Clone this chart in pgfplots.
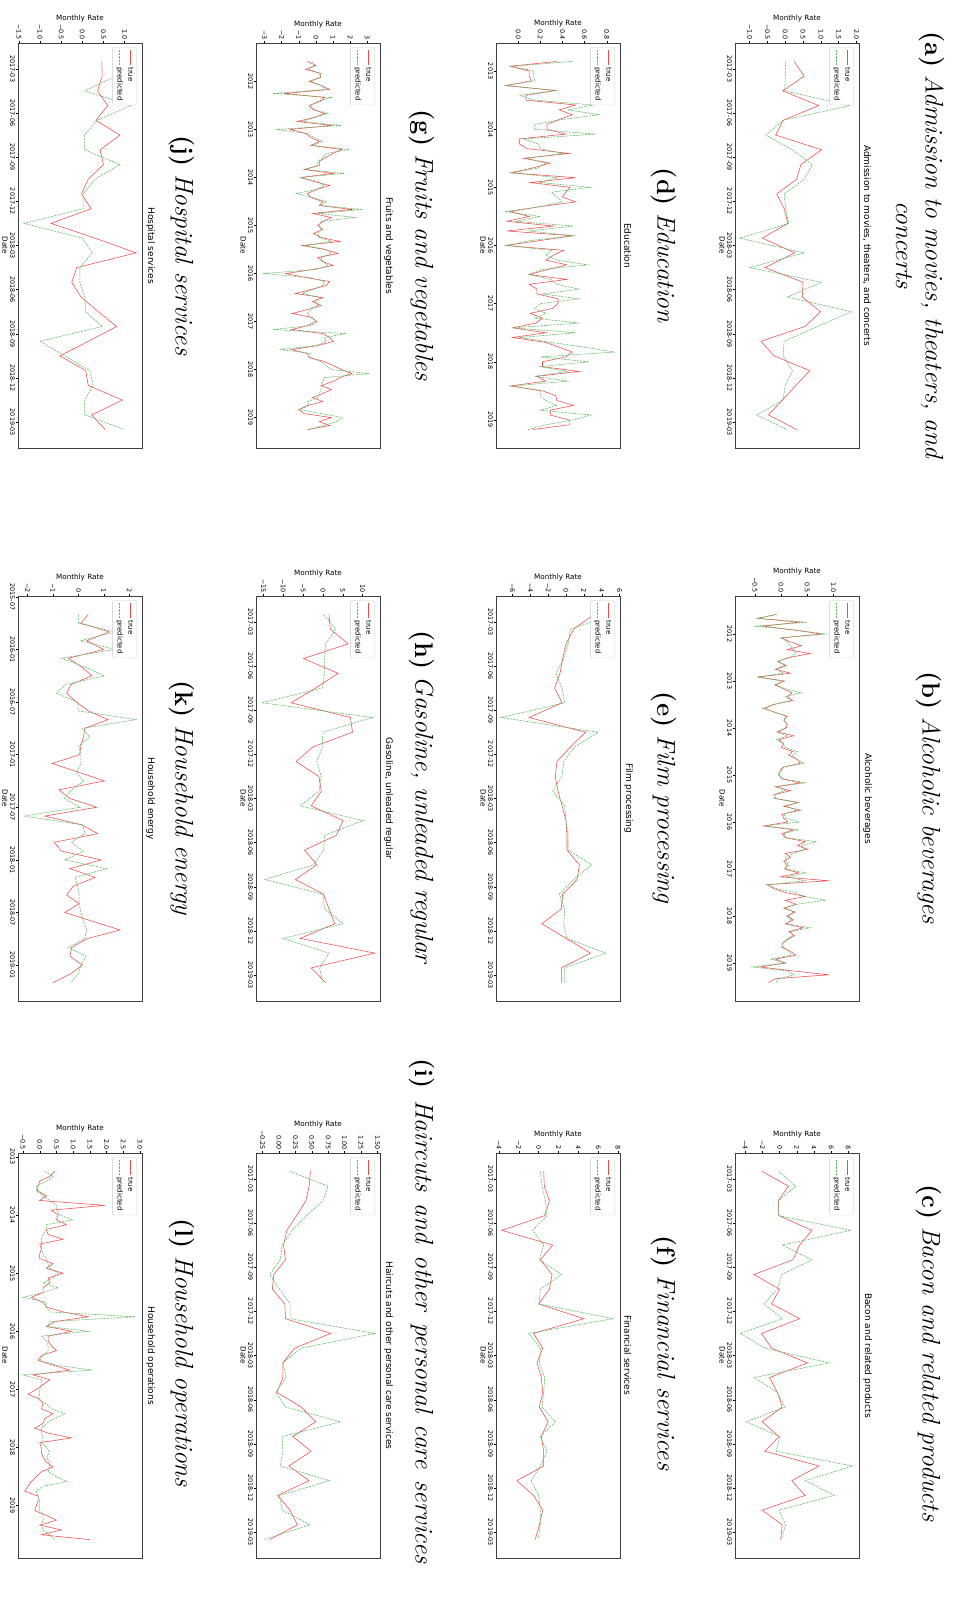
\documentclass[border=0pt]{standalone}
\usepackage{pgfplots}
\usepackage{pgfplotstable}
\pgfplotsset{compat=1.18}
\usepackage{fontspec}
\setsansfont{DejaVu Sans}
\definecolor{tr}{rgb}{0.93,0.30,0.30}
\definecolor{pr}{rgb}{0.38,0.72,0.38}
\pgfplotsset{
  pan/.style={
    scale only axis, width=405pt, height=124pt, anchor=north west,
    axis line style={black!75, line width=0.5pt},
    tick align=outside, xtick pos=bottom, ytick pos=left,
    major tick length=2pt, minor tick num=0,
    every tick/.style={black, line width=0.4pt},
    tick label style={font=\sffamily\fontsize{6.4}{7}\selectfont},
    xticklabel style={inner sep=1pt},
    yticklabel style={inner sep=1pt},
    xlabel={Date}, ylabel={Monthly Rate},
    label style={font=\sffamily\fontsize{7.2}{8}\selectfont, inner sep=1pt},
    title style={font=\sffamily\fontsize{9}{10}\selectfont, inner sep=1pt, yshift=-3pt},
    legend style={at={(0.01,0.96)}, anchor=north west,
      font=\sffamily\fontsize{7}{8.5}\selectfont, draw=black!20, fill=white,
      fill opacity=0.8, text opacity=1, rounded corners=1.5pt,
      inner xsep=2.5pt, inner ysep=1.5pt, row sep=0pt},
    legend cell align=left,
    legend image code/.code={\draw[##1] (0pt,0pt) -- (15pt,0pt);},
    scaled ticks=false,
  },
  tl/.style={tr, line width=0.55pt},
  pl/.style={pr, line width=0.55pt, dash pattern=on 2.2pt off 1pt},
  m26/.style={xmin=-1.25, xmax=26.25,
    xtick={0.5,3.5,6.5,9.5,12.5,15.5,18.5,21.5,24.5},
    xticklabels={2017-03,2017-06,2017-09,2017-12,2018-03,2018-06,2018-09,2018-12,2019-03}},
}
\pgfplotstableread{
x t p
0 0.25 0.01
1 0.53 0.00
2 -0.07 -0.01
3 0.94 1.81
4 -0.06 -0.06
5 -0.27 -0.55
6 1.02 0.20
7 0.44 0.76
8 0.32 0.53
9 -0.24 -0.03
10 -0.03 0.01
11 0.07 0.10
12 -0.64 -1.27
13 0.27 0.53
14 -0.57 -0.99
15 0.50 1.02
16 0.48 0.06
17 0.99 1.86
18 0.55 0.90
19 -0.68 -0.03
20 -0.31 -0.06
21 0.69 0.20
22 0.30 0.00
23 -0.08 -0.06
24 -0.47 -0.80
25 0.32 0.04
}\tA
\pgfplotstableread{
x t p
-5 -0.10 -0.08
-4 -0.44 -0.45
-3 0.35 0.50
-2 -0.35 -0.52
-1 0.25 0.30
0 0.78 0.85
1 0.00 0.00
2 0.18 0.12
3 0.39 0.18
4 0.12 0.25
5 0.56 0.28
6 0.15 0.18
7 -0.06 -0.07
8 0.08 0.12
9 -0.11 -0.09
10 0.18 0.05
11 -0.44 -0.44
12 0.07 0.02
13 -0.12 -0.10
14 0.05 0.08
15 0.21 0.39
16 0.12 0.08
17 0.22 0.18
18 -0.14 -0.14
19 -0.31 -0.37
20 -0.12 -0.10
21 0.12 0.08
22 0.05 0.06
23 0.12 0.10
24 0.10 0.08
25 -0.06 -0.08
26 0.24 0.12
27 -0.04 -0.09
28 0.05 0.05
29 0.01 0.08
30 0.22 0.31
31 0.15 0.22
32 0.31 0.30
33 0.37 0.44
34 0.05 0.02
35 -0.01 -0.04
36 -0.04 -0.05
37 0.02 0.05
38 0.37 0.47
39 -0.11 -0.08
40 0.18 0.08
41 -0.12 -0.14
42 -0.11 -0.12
43 0.33 0.31
44 0.05 0.10
45 0.37 0.30
46 0.02 0.05
47 0.05 0.10
48 0.13 0.34
49 -0.33 -0.31
50 0.24 0.34
51 0.02 0.05
52 0.08 0.10
53 0.46 0.66
54 0.31 0.39
55 0.51 0.45
56 0.08 0.24
57 0.18 0.08
58 0.05 0.10
59 0.12 0.15
60 0.07 0.10
61 0.34 0.47
62 -0.01 0.12
63 0.92 0.47
64 -0.27 -0.25
65 -0.14 -0.10
66 0.08 0.28
67 0.47 0.44
68 0.08 0.85
69 0.29 0.30
70 0.05 0.08
71 0.27 0.25
72 0.12 0.10
73 0.24 0.20
74 0.08 0.10
75 0.42 0.56
76 0.15 0.18
77 0.26 0.22
78 0.13 0.10
79 0.03 0.02
80 0.01 0.05
81 0.18 0.15
82 0.28 0.20
83 -0.11 -0.20
84 0.08 0.10
85 -0.40 -0.56
86 0.21 0.12
87 0.92 0.25
88 -0.11 -0.05
89 -0.24 -0.10
}\tB
\pgfplotstableread{
x t p
0 -2.03 -0.08
1 1.02 1.88
2 -0.16 -0.16
3 -0.08 -0.16
4 3.75 8.3
5 2.34 0.31
6 1.56 3.75
7 -3.0 0.23
8 0.0 -0.27
9 -0.94 -1.84
10 2.34 0.31
11 -2.1 -4.57
12 -0.94 -1.72
13 3.24 5.78
14 -1.17 -3.0
15 -0.27 -0.27
16 0.31 0.63
17 -2.03 -3.9
18 -0.08 0.0
19 -1.72 -0.39
20 4.6 8.5
21 1.41 2.97
22 2.97 6.37
23 -2.03 -0.08
24 0.31 0.7
25 0.12 0.2
}\tC
\pgfplotstableread{
x t p
-2 0.35 0.49
-1 -0.07 -0.05
0 0.10 0.14
1 0.10 0.14
2 0.12 0.15
3 -0.11 -0.11
4 0.34 0.34
5 0.07 0.02
6 0.07 0.15
7 0.52 0.68
8 0.37 0.45
9 0.49 0.73
10 0.37 0.40
11 0.26 0.15
12 0.26 0.15
13 0.43 0.70
14 0.01 0.05
15 0.01 0.18
16 0.08 0.20
17 0.46 0.40
18 0.05 0.08
19 0.29 0.25
20 0.13 0.18
21 -0.07 -0.05
22 0.52 0.35
23 0.11 0.20
24 0.47 0.65
25 0.43 0.30
26 0.40 0.35
27 0.52 0.40
28 0.19 0.20
29 -0.07 -0.12
30 0.10 0.20
31 -0.10 -0.02
32 0.32 0.50
33 -0.10 0.10
34 0.49 0.50
35 0.19 0.10
36 -0.11 -0.10
37 0.41 0.30
38 0.32 0.25
39 0.25 0.35
40 0.44 0.63
41 0.26 0.20
42 0.10 0.10
43 0.44 0.30
44 0.10 0.35
45 0.17 0.55
46 0.17 0.22
47 0.36 0.55
48 0.36 0.20
49 0.31 0.15
50 0.11 0.25
51 0.22 0.15
52 0.16 0.55
53 -0.05 -0.05
54 0.25 0.52
55 -0.05 0.02
56 0.25 0.30
57 0.37 0.60
58 0.49 0.87
59 0.43 0.20
60 0.22 0.64
61 0.22 0.20
62 0.55 0.44
63 0.17 0.15
64 0.25 0.45
65 -0.07 -0.05
66 0.22 0.20
67 0.34 0.20
68 0.35 0.25
69 0.50 0.35
70 0.29 0.20
71 0.29 0.66
72 0.46 0.50
73 0.46 0.25
74 0.13 0.09
}\tD
\pgfplotstableread{
x t p
0 3.12 5.38
1 0.86 0.49
2 0.0 0.23
3 -0.38 -0.26
4 -0.68 -1.13
5 -1.28 -0.45
6 -0.45 -0.15
7 -4.14 -7.3
8 2.18 3.6
9 0.49 0.98
10 -1.02 -0.26
11 -1.2 -0.45
12 -0.9 -1.5
13 -0.45 -0.15
14 0.0 0.0
15 0.11 0.23
16 0.11 0.23
17 1.5 2.86
18 1.24 0.86
19 -0.38 -0.75
20 -0.53 -0.15
21 -2.7 -0.26
22 0.0 0.11
23 2.74 4.44
24 -0.53 -0.15
25 -0.53 -0.15
}\tE
\pgfplotstableread{
x t p
0 0.51 0.17
1 0.57 0.34
2 1.08 0.68
3 0.61 0.84
4 -3.72 -0.61
5 1.42 0.51
6 0.17 0.07
7 1.35 2.3
8 1.08 0.17
9 0.0 0.05
10 4.56 7.5
11 -0.51 -1.01
12 0.41 0.17
13 -0.17 0.07
14 0.27 0.61
15 0.41 0.51
16 0.07 0.34
17 0.95 1.69
18 0.27 0.17
19 0.51 0.84
20 0.51 0.17
21 -2.2 -0.74
22 -0.51 0.0
23 0.41 0.17
24 0.07 0.17
25 -0.34 -0.07
}\tF
\pgfplotstableread{
x t p
-5 -0.5 -0.2
-4 0.0 -0.1
-3 -0.6 -0.4
-2 0.3 0.2
-1 0.25 0.3
0 -0.4 -0.3
1 0.3 0.3
2 0.8 0.6
3 -1.85 -2.5
4 0.5 0.9
5 0.25 0.1
6 -0.4 -0.3
7 -0.2 -0.1
8 0.5 0.7
9 -0.1 -0.1
10 -1.1 -0.8
11 0.9 1.5
12 -1.5 -2.35
13 -0.6 -0.5
14 -0.3 -0.1
15 0.2 0.4
16 -0.3 -0.2
17 1.5 1.95
18 1.0 0.6
19 0.55 0.4
20 0.2 0.1
21 0.2 0.1
22 -0.7 -0.6
23 1.0 1.65
24 -0.9 -0.9
25 -0.15 0.1
26 0.8 0.5
27 0.05 0.0
28 -0.5 -1.15
29 -0.3 -0.2
30 0.4 0.6
31 0.2 0.3
32 2.1 2.7
33 -0.2 0.1
34 0.9 2.3
35 0.4 0.3
36 0.1 0.2
37 0.4 0.3
38 -0.15 0.1
39 0.3 0.2
40 1.4 0.9
41 -0.8 -0.6
42 0.5 0.6
43 1.3 0.9
44 0.1 0.3
45 0.4 0.4
46 1.0 0.7
47 -0.2 0.0
48 -1.75 -3.1
49 -0.6 -0.4
50 0.8 0.5
51 0.6 0.4
52 -0.3 -0.2
53 -1.2 -0.8
54 0.4 0.2
55 -0.2 0.0
56 0.3 0.1
57 -0.5 -0.3
58 -1.4 -0.5
59 -0.2 -0.3
60 0.0 0.1
61 -0.5 -0.3
62 -1.4 -2.5
63 0.4 1.75
64 0.8 0.5
65 1.0 0.6
66 0.1 0.0
67 -1.4 -2.05
68 -0.5 -0.3
69 -0.4 -0.3
70 0.5 0.3
71 1.0 0.6
72 1.5 0.9
73 2.1 3.1
74 1.4 0.5
75 1.0 0.4
76 0.3 0.3
77 0.9 0.3
78 0.4 0.2
79 -0.2 0.1
80 0.4 -0.5
81 -0.5 -0.4
82 -1.0 -1.0
83 -0.7 0.3
84 0.9 1.55
85 0.2 1.2
86 0.8 0.4
87 -0.5 -0.4
}\tG
\pgfplotstableread{
x t p
0 1.53 0.17
1 1.86 3.22
2 6.36 0.68
3 -4.92 0.42
4 3.81 0.42
5 -1.86 -0.17
6 -8.05 -15.4
7 6.95 12.5
8 7.46 0.0
9 -2.54 -0.17
10 -6.78 -1.53
11 -1.02 -0.42
12 -0.42 -1.0
13 -2.97 -5.76
14 5.08 10.2
15 3.39 0.42
16 -4.66 0.17
17 -1.53 -2.37
18 -6.95 -14.6
19 0.17 0.0
20 1.53 0.42
21 2.97 5.08
22 -5.76 -10.0
23 13.1 1.53
24 -2.97 -0.85
25 0.68 0.0
}\tH
\pgfplotstableread{
x t p
0 0.48 0.17
1 0.46 0.75
2 0.41 0.67
3 0.27 0.42
4 0.12 0.20
5 0.07 0.05
6 0.10 0.02
7 -0.08 -0.14
8 -0.10 0.01
9 0.09 0.17
10 0.10 0.17
11 0.79 1.46
12 0.24 0.34
13 0.06 0.06
14 0.06 0.11
15 -0.03 -0.05
16 0.34 0.10
17 0.56 0.94
18 0.21 0.05
19 0.49 0.06
20 0.15 0.02
21 0.46 0.77
22 -0.02 0.01
23 0.17 0.05
24 0.28 0.47
25 -0.14 -0.24
}\tI
\pgfplotstableread{
x t p
0 0.46 1.00
1 0.47 0.80
2 0.36 0.05
3 0.60 1.15
4 0.32 0.35
5 0.89 0.05
6 0.42 0.05
7 0.50 0.89
8 0.14 0.30
9 -0.02 0.02
10 0.21 0.02
11 -0.74 -1.38
12 0.30 0.00
13 1.27 0.24
14 -0.13 -0.06
15 -0.25 -0.06
16 -0.03 0.06
17 0.38 0.08
18 0.81 0.47
19 0.14 -1.00
20 -0.53 -0.41
21 0.08 0.18
22 0.14 0.26
23 0.95 0.05
24 0.22 0.05
25 0.54 1.00
}\tJ
\pgfplotstableread{
x t p
2 0.39 0.0
3 0.1 0.0
4 1.21 1.45
5 0.33 0.07
6 0.99 1.45
7 -0.39 -0.66
8 0.13 0.26
9 0.53 1.03
10 -0.29 -0.5
11 -0.46 -0.86
12 -0.07 -0.03
13 0.39 0.0
14 1.16 2.26
15 0.26 0.16
16 0.2 0.45
17 0.1 0.02
18 0.05 0.1
19 -1.03 0.1
20 0.0 -0.07
21 1.03 0.2
22 -0.76 -0.26
23 -0.33 -0.55
24 0.72 0.07
25 -1.32 -2.13
26 0.13 0.16
27 0.76 0.26
28 -0.95 -0.26
29 -0.66 0.2
30 0.9 -0.53
31 -0.33 1.12
32 0.66 -0.13
33 -0.2 -0.03
34 -0.46 0.03
35 0.03 0.03
36 -0.53 0.1
37 0.55 0.2
38 1.64 0.33
39 0.33 0.24
40 -0.26 -0.39
41 -0.33 0.3
42 0.16 0.1
43 -0.3 0.0
44 -0.99 -0.29
}\tK
\pgfplotstableread{
x t p
3 0.45 0.15
4 0.3 0.4
5 0.0 0.2
6 -0.05 -0.1
7 -0.07 -0.1
8 0.2 0.1
9 0.0 0.3
10 1.95 0.5
11 0.35 0.5
12 0.55 0.6
13 0.5 1.0
14 0.8 0.2
15 0.2 0.2
16 0.25 0.1
17 0.7 0.05
18 0.0 0.05
19 0.05 0.05
20 0.0 0.1
21 0.0 0.2
22 0.4 0.25
23 0.2 0.3
24 0.7 0.55
25 0.25 0.4
26 0.3 0.1
27 0.1 0.55
28 0.1 0.1
29 -0.25 -0.5
30 0.1 0.2
31 0.2 0.2
32 0.7 0.3
33 1.45 2.85
34 0.45 0.3
35 0.2 0.25
36 0.95 1.45
37 0.25 0.05
38 0.25 0.2
39 0.35 0.25
40 0.5 0.25
41 0.05 0.1
42 -0.05 0.0
43 0.4 0.5
44 0.9 1.55
45 -0.2 -0.5
46 0.3 0.05
47 0.1 0.05
48 -0.1 0.0
49 -0.35 0.0
50 0.0 -0.05
51 0.1 0.2
52 0.05 0.35
53 0.4 0.75
54 0.15 0.45
55 0.1 0.2
56 -0.15 0.05
57 0.25 0.05
58 0.95 0.1
59 0.0 0.05
60 0.05 0.2
61 0.05 0.3
62 0.1 0.2
63 0.2 0.3
64 0.4 0.3
65 0.05 0.25
66 -0.1 0.5
67 -0.25 0.8
68 -0.35 0.1
69 -0.45 -0.1
70 -0.05 -0.05
71 -0.05 0.0
72 -0.1 0.0
73 -0.15 0.0
74 0.2 0.1
75 0.5 0.1
76 0.0 0.05
77 0.65 0.1
78 0.05 0.3
79 1.5 0.45
}\tL
\newcommand{\capt}[1]{\fontsize{25.5}{29}\selectfont #1}
\begin{document}
\begin{tikzpicture}
\begin{scope}[rotate=-90, transform shape]
\path[use as bounding box] (0pt,0pt) rectangle (1603pt,-965pt);
% ---------- row 1
\begin{axis}[pan, m26, at={(43pt,-106pt)}, ymin=-1.41, ymax=2.07,
  ytick={-1,-0.5,0,0.5,1,1.5,2}, yticklabels={−1.0,−0.5,0.0,0.5,1.0,1.5,2.0},
  title={Admission to movies, theaters, and concerts}]
\addplot[tl] table[x=x,y=t]{\tA}; \addlegendentry{true}
\addplot[pl] table[x=x,y=p]{\tA}; \addlegendentry{predicted}
\end{axis}
\begin{axis}[pan, at={(596pt,-106pt)}, xmin=-9.7, xmax=93.7,
  xtick={0,12,24,36,48,60,72,84}, xticklabels={2012,2013,2014,2015,2016,2017,2018,2019},
  ymin=-0.88, ymax=1.49,
  ytick={-0.5,0,0.5,1}, yticklabels={−0.5,0.0,0.5,1.0},
  title={Alcoholic beverages}]
\addplot[tl] table[x=x,y=t]{\tB}; \addlegendentry{true}
\addplot[pl] table[x=x,y=p]{\tB}; \addlegendentry{predicted}
\end{axis}
\begin{axis}[pan, m26, at={(1153pt,-106pt)}, ymin=-5.2, ymax=9.25,
  ytick={-4,-2,0,2,4,6,8}, yticklabels={−4,−2,0,2,4,6,8},
  title={Bacon and related products}]
\addplot[tl] table[x=x,y=t]{\tC}; \addlegendentry{true}
\addplot[pl] table[x=x,y=p]{\tC}; \addlegendentry{predicted}
\end{axis}
% ---------- row 2
\begin{axis}[pan, at={(43pt,-345pt)}, xmin=-5.8, xmax=77.8,
  xtick={0,12,24,36,48,60,72}, xticklabels={2013,2014,2015,2016,2017,2018,2019},
  ymin=-0.2, ymax=0.92,
  ytick={0,0.2,0.4,0.6,0.8}, yticklabels={0.0,0.2,0.4,0.6,0.8},
  title={Education}]
\addplot[tl] table[x=x,y=t]{\tD}; \addlegendentry{true}
\addplot[pl] table[x=x,y=p]{\tD}; \addlegendentry{predicted}
\end{axis}
\begin{axis}[pan, m26, at={(596pt,-345pt)}, ymin=-7.85, ymax=6.05,
  ytick={-6,-4,-2,0,2,4,6}, yticklabels={−6,−4,−2,0,2,4,6},
  title={Film processing}]
\addplot[tl] table[x=x,y=t]{\tE}; \addlegendentry{true}
\addplot[pl] table[x=x,y=p]{\tE}; \addlegendentry{predicted}
\end{axis}
\begin{axis}[pan, m26, at={(1153pt,-345pt)}, ymin=-4.3, ymax=8.2,
  ytick={-4,-2,0,2,4,6,8}, yticklabels={−4,−2,0,2,4,6,8},
  title={Financial services}]
\addplot[tl] table[x=x,y=t]{\tF}; \addlegendentry{true}
\addplot[pl] table[x=x,y=p]{\tF}; \addlegendentry{predicted}
\end{axis}
% ---------- row 3
\begin{axis}[pan, at={(43pt,-585pt)}, xmin=-9.6, xmax=91.6,
  xtick={0,12,24,36,48,60,72,84}, xticklabels={2012,2013,2014,2015,2016,2017,2018,2019},
  ymin=-3.5, ymax=3.74,
  ytick={-3,-2,-1,0,1,2,3}, yticklabels={−3,−2,−1,0,1,2,3},
  title={Fruits and vegetables}]
\addplot[tl] table[x=x,y=t]{\tG}; \addlegendentry{true}
\addplot[pl] table[x=x,y=p]{\tG}; \addlegendentry{predicted}
\end{axis}
\begin{axis}[pan, m26, at={(596pt,-585pt)}, ymin=-16.9, ymax=14.4,
  ytick={-15,-10,-5,0,5,10}, yticklabels={−15,−10,−5,0,5,10},
  title={Gasoline, unleaded regular}]
\addplot[tl] table[x=x,y=t]{\tH}; \addlegendentry{true}
\addplot[pl] table[x=x,y=p]{\tH}; \addlegendentry{predicted}
\end{axis}
\begin{axis}[pan, m26, at={(1153pt,-585pt)}, ymin=-0.35, ymax=1.54,
  ytick={-0.25,0,0.25,0.5,0.75,1,1.25,1.5}, yticklabels={−0.25,0.00,0.25,0.50,0.75,1.00,1.25,1.50},
  title={Haircuts and other personal care services}]
\addplot[tl] table[x=x,y=t]{\tI}; \addlegendentry{true}
\addplot[pl] table[x=x,y=p]{\tI}; \addlegendentry{predicted}
\end{axis}
% ---------- row 4
\begin{axis}[pan, m26, at={(43pt,-823pt)}, ymin=-1.52, ymax=1.41,
  ytick={-1.5,-1,-0.5,0,0.5,1}, yticklabels={−1.5,−1.0,−0.5,0.0,0.5,1.0},
  title={Hospital services}]
\addplot[tl] table[x=x,y=t]{\tJ}; \addlegendentry{true}
\addplot[pl] table[x=x,y=p]{\tJ}; \addlegendentry{predicted}
\end{axis}
\begin{axis}[pan, at={(596pt,-823pt)}, xmin=-0.1, xmax=46.1,
  xtick={0,6,12,18,24,30,36,42}, xticklabels={2015-07,2016-01,2016-07,2017-01,2017-07,2018-01,2018-07,2019-01},
  ymin=-2.37, ymax=2.5,
  ytick={-2,-1,0,1,2}, yticklabels={−2,−1,0,1,2},
  title={Household energy}]
\addplot[tl] table[x=x,y=t]{\tK}; \addlegendentry{true}
\addplot[pl] table[x=x,y=p]{\tK}; \addlegendentry{predicted}
\end{axis}
\begin{axis}[pan, at={(1153pt,-823pt)}, xmin=-0.8, xmax=82.8,
  xtick={0,12,24,36,48,60,72}, xticklabels={2013,2014,2015,2016,2017,2018,2019},
  ymin=-0.65, ymax=3.06,
  ytick={-0.5,0,0.5,1,1.5,2,2.5,3}, yticklabels={−0.5,0.0,0.5,1.0,1.5,2.0,2.5,3.0},
  title={Household operations}]
\addplot[tl] table[x=x,y=t]{\tL}; \addlegendentry{true}
\addplot[pl] table[x=x,y=p]{\tL}; \addlegendentry{predicted}
\end{axis}
% ---------- captions
\node at (245.5pt,-33pt) {\capt{\textbf{(a)} \textit{Admission to movies, theaters, and}}};
\node at (245.5pt,-61pt) {\capt{\textit{concerts}}};
\node at (798pt,-36pt) {\capt{\textbf{(b)} \textit{Alcoholic beverages}}};
\node at (1353pt,-36pt) {\capt{\textbf{(c)} \textit{Bacon and related products}}};
\node at (245.5pt,-301pt) {\capt{\textbf{(d)} \textit{Education}}};
\node at (798pt,-301pt) {\capt{\textbf{(e)} \textit{Film processing}}};
\node at (1353pt,-301pt) {\capt{\textbf{(f)} \textit{Financial services}}};
\node at (245.5pt,-543pt) {\capt{\textbf{(g)} \textit{Fruits and vegetables}}};
\node at (798pt,-543pt) {\capt{\textbf{(h)} \textit{Gasoline, unleaded regular}}};
\node at (1311pt,-543pt) {\capt{\spaceskip=12pt plus 1pt\textbf{(i)} \textit{Haircuts and other personal care services}}};
\node at (245.5pt,-783pt) {\capt{\textbf{(j)} \textit{Hospital services}}};
\node at (798pt,-783pt) {\capt{\textbf{(k)} \textit{Household energy}}};
\node at (1353pt,-783pt) {\capt{\textbf{(l)} \textit{Household operations}}};
\end{scope}
\end{tikzpicture}
\end{document}
